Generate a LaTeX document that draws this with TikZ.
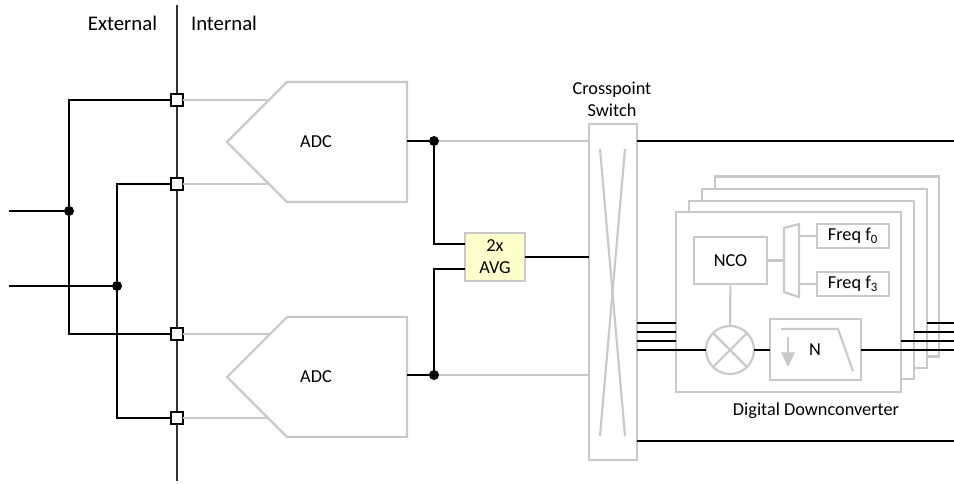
\documentclass[tikz,border=0pt]{standalone}
\usepackage{fontspec}
\setmainfont{Carlito}
\usetikzlibrary{arrows.meta,positioning}
\definecolor{blockgray}{HTML}{C9C9C9}
\definecolor{avgfill}{HTML}{FFFFCC}

\begin{document}
\begin{tikzpicture}[x=0.75pt, y=-0.75pt, >=Stealth, node distance=18pt,
    font=\fontsize{13.7}{16.5}\selectfont]
  \tikzset{
    gray line/.style={draw=blockgray, line width=1.6pt},
    sig/.style={draw=black, line width=1.5pt},
    blockbox/.style={gray line, fill=white, inner sep=0pt, outer sep=0pt, align=center},
    port/.style={draw=black, line width=1.4pt, fill=white, minimum size=9pt, inner sep=0pt, outer sep=0pt},
    dot/.style={circle, fill=black, minimum size=7.5pt, inner sep=0pt, outer sep=0pt},
    label/.style={inner sep=0pt, align=center},
    side label/.style={label, font=\fontsize{15.6}{18}\selectfont}
  }
  \useasboundingbox (0,0) rectangle (954,483);

  % external / internal divider
  \coordinate (top) at (177,5);
  \coordinate (bot) at (177,481);
  \draw[line width=0.9pt, black!80] (top) -- (bot);
  \node[side label] (ext) at (122.5,23) {External};
  \node[side label] (int) at (224,23) {Internal};

  % ports on the divider
  \node[port] (p1) at (177,100) {};
  \node[port] (p2) at (177,184) {};
  \node[port] (p3) at (177,334) {};
  \node[port] (p4) at (177,418) {};

  % inputs
  \coordinate (in1) at (9,211);
  \coordinate (in2) at (9,286);
  \node[dot] (d1) at (69,211) {};
  \node[dot] (d2) at (117,286) {};
  \draw[sig] (in1) -- (d1);
  \draw[sig] (in2) -- (d2);
  \draw[sig] (p1) -| (d1) |- (p3);
  \draw[sig] (p2) -| (d2) |- (p4);

  % ADCs
  \draw[gray line] (227,142) -- (287,82) -- (407,82) -- (407,202) -- (287,202) -- cycle;
  \draw[gray line] (227,377) -- (287,317) -- (407,317) -- (407,437) -- (287,437) -- cycle;
  \node[label] (adc1) at (316,142) {ADC};
  \node[label] (adc2) at (316,377) {ADC};
  \coordinate (a1) at (269,100);
  \coordinate (a2) at (269,184);
  \coordinate (a3) at (269,334);
  \coordinate (a4) at (269,418);
  \draw[gray line] (p1) -- (a1);
  \draw[gray line] (p2) -- (a2);
  \draw[gray line] (p3) -- (a3);
  \draw[gray line] (p4) -- (a4);

  % crosspoint switch
  \node[blockbox, minimum width=36pt, minimum height=252pt] (xsw) at (613,292) {};
  \node[label] (xswl) at (612,99) {Crosspoint\\Switch};
  \coordinate (xa) at (600,149);
  \coordinate (xb) at (625,149);
  \coordinate (xc) at (600,436);
  \coordinate (xd) at (625,436);
  \draw[gray line] (xa) -- (xd);
  \draw[gray line] (xb) -- (xc);

  % averaging block
  \node[blockbox, fill=avgfill, minimum width=45pt, minimum height=36pt] (avg) at (495,257) {2x\\AVG};
  \coordinate (o1) at (407,141);
  \coordinate (o2) at (407,375);
  \node[dot] (d3) at (434,141) {};
  \node[dot] (d4) at (434,375) {};
  \coordinate (avg1) at (465,244);
  \coordinate (avg2) at (465,269);
  \draw[sig] (o1) -- (d3);
  \draw[sig] (o2) -- (d4);
  \draw[sig] (d3) |- (avg1);
  \draw[sig] (d4) |- (avg2);
  \draw[gray line] (d3) -- (d3 -| xsw.west);
  \draw[gray line] (d4) -- (d4 -| xsw.west);
  \draw[sig] (avg) -- (avg -| xsw.west);

  % switch outputs
  \coordinate (out1) at (954,141);
  \coordinate (out2) at (954,441);
  \draw[sig] (out1 -| xsw.east) -- (out1);
  \draw[sig] (out2 -| xsw.east) -- (out2);

  % downconverter stack
  \node[blockbox, minimum width=168pt, minimum height=135pt] (ddc4) at (827,266.5) {};
  \node[blockbox, minimum width=168.75pt, minimum height=134.25pt] (ddc3) at (814.5,278.5) {};
  \node[blockbox, minimum width=168.75pt, minimum height=133.5pt] (ddc2) at (801.5,290) {};
  \node[blockbox, minimum width=168.75pt, minimum height=135pt] (ddc1) at (788.5,302) {};
  \node[label] (ddcl) at (816,411) {Digital Downconverter};

  \node[blockbox, minimum width=54.75pt, minimum height=35.25pt] (nco) at (730.5,260.5) {NCO};
  \node[blockbox, minimum width=54pt, minimum height=18pt] (f0) at (853,236) {Freq f\textsubscript{0}};
  \node[blockbox, minimum width=54pt, minimum height=18pt, below=of f0] (f3) {Freq f\textsubscript{3}};
  \coordinate (m1) at (784,228);
  \coordinate (m2) at (799,224);
  \coordinate (m3) at (799,297);
  \coordinate (m4) at (784,292);
  \draw[gray line] (nco) -- (nco -| m1);
  \draw[gray line] (f0) -- (f0 -| m2);
  \draw[gray line] (f3) -- (f3 -| m2);
  \draw[gray line, fill=white] (m1) -- (m2) -- (m3) -- (m4) -- cycle;

  % mixer and filter
  \node[circle, gray line, minimum size=36pt, inner sep=0pt, outer sep=0pt] (mix) at (730,350) {};
  \draw[gray line] (mix.north west) -- (mix.south east);
  \draw[gray line] (mix.north east) -- (mix.south west);
  \draw[gray line] (nco) -- (mix);
  \node[blockbox, minimum width=68.25pt, minimum height=45.75pt] (filt) at (815.5,349.5) {};
  \node[label] (n) at (815,350) {N};
  \coordinate (fa) at (781,329);
  \coordinate (fb) at (838,329);
  \coordinate (fc) at (853,371);
  \coordinate (da) at (788,337);
  \coordinate (db) at (788,367);
  \draw[gray line] (fa) -- (fb) -- (fc);
  \draw[gray line, -{Stealth[length=11pt, width=10pt, inset=0pt]}] (da) -- (db);

  % signal lanes through the stack
  \foreach \y/\name/\x in {323/a/927, 332/b/914, 341/c/901} {
    \coordinate (l\name) at (xsw.east |- 0,\y);
    \coordinate (r\name) at (676,\y);
    \coordinate (s\name) at (\x,\y);
    \coordinate (t\name) at (954,\y);
    \draw[sig] (l\name) -- (r\name);
    \draw[sig] (s\name) -- (t\name);
  }
  \coordinate (ld) at (xsw.east |- 0,350);
  \coordinate (td) at (954,350);
  \draw[sig] (ld) -- (mix.west);
  \draw[sig] (mix.east) -- (filt.west |- mix.east);
  \draw[sig] (filt.east |- mix.east) -- (td);
\end{tikzpicture}
\end{document}
